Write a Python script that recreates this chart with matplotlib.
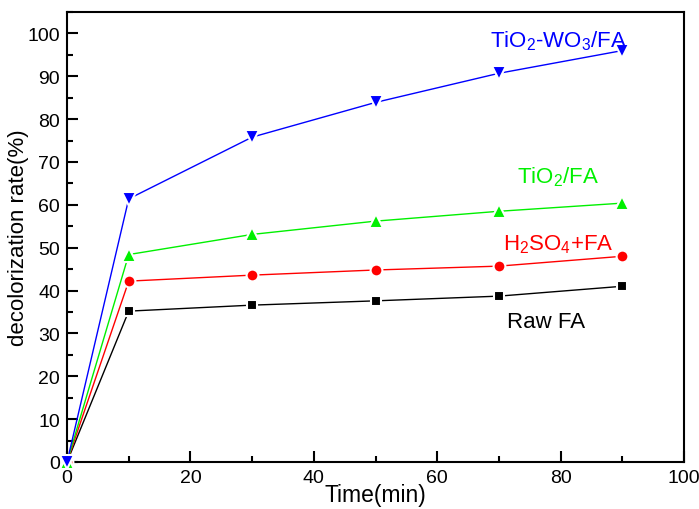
import numpy as np
import matplotlib
matplotlib.use("Agg")
import matplotlib.pyplot as plt
from matplotlib.ticker import MultipleLocator

plt.rcParams['font.family'] = ['Liberation Sans', 'DejaVu Sans']
plt.rcParams['mathtext.fontset'] = 'custom'
plt.rcParams['mathtext.rm'] = 'Liberation Sans'

# data
time_min = [0, 10, 30, 50, 70, 90]
raw_fa = [0, 35.2, 36.6, 37.6, 38.7, 41.0]
h2so4_fa = [0, 42.2, 43.6, 44.8, 45.7, 48.0]
tio2_fa = [0, 48.4, 53.1, 56.2, 58.5, 60.4]
tio2_wo3_fa = [0, 61.4, 75.8, 83.9, 90.7, 96.0]

green = '#00f000'

fig = plt.figure(figsize=(6.99, 5.10), dpi=100)
ax = fig.add_axes([0.0959, 0.0922, 0.8826, 0.8823])

series = [
    (raw_fa, 'black', 's', 7.5),
    (h2so4_fa, 'red', 'o', 8.5),
    (tio2_fa, green, '^', 9.5),
    (tio2_wo3_fa, 'blue', 'v', 9.5),
]
for ys, c, m, ms in series:
    ax.plot(time_min, ys, color=c, lw=1.0, marker=m, markersize=ms,
            markerfacecolor=c, markeredgecolor='white', markeredgewidth=1.5,
            clip_on=False, zorder=3)

ax.set_xlim(0, 100)
ax.set_ylim(0, 105)
ax.xaxis.set_major_locator(MultipleLocator(20))
ax.xaxis.set_minor_locator(MultipleLocator(10))
ax.yaxis.set_major_locator(MultipleLocator(10))
ax.yaxis.set_minor_locator(MultipleLocator(5))
ax.tick_params(which='both', direction='in', width=1.5, labelsize=14, pad=5)
ax.tick_params(which='major', length=8)
ax.tick_params(which='minor', length=4.5)
ax.tick_params(top=False, right=False, which='both')
for s in ax.spines.values():
    s.set_linewidth(1.5)

ax.set_xlabel('Time(min)', fontsize=16.5, labelpad=-2)
ax.set_ylabel('decolorization rate(%)', fontsize=16, labelpad=-1)

ax.text(79.6, 97.0, r'TiO$_2$-WO$_3$/FA', color='blue', fontsize=16, ha='center')
ax.text(79.6, 65.3, r'TiO$_2$/FA', color=green, fontsize=16, ha='center')
ax.text(79.6, 49.7, r'H$_2$SO$_4$+FA', color='red', fontsize=16, ha='center')
ax.text(77.6, 31.5, 'Raw FA', color='black', fontsize=16, ha='center')

fig.savefig('out.png', dpi=100)
